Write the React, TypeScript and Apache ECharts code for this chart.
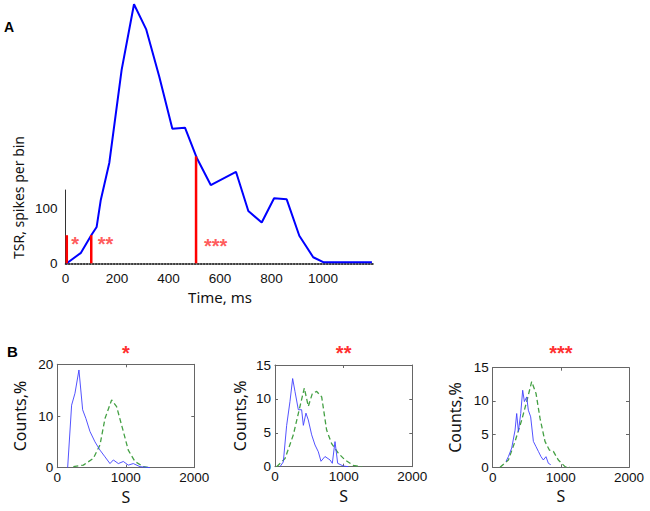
import React, { useEffect, useRef } from "react";
import * as echarts from "echarts";

// ---------- Panel A data ----------
const tsrTime = [5, 60, 100, 121, 137, 170, 218, 266, 313, 364, 415, 464, 509, 564, 662, 710, 762, 810, 859, 908, 962, 1001, 1190];
const tsrValue = [0, 19, 51, 66, 115, 182, 351, 470, 425, 339, 244, 246, 192, 142, 166, 95, 74, 118, 116, 50, 11, 2, 2];
const stimTime = [5, 100, 507];
const stimHeight = [51, 51, 194];
const stimLabel = ["*", "**", "***"];
const starX = [37, 155, 583];
const starY = [35, 35, 31];

// ---------- Panel B data ----------
const b1BlueS = [151, 209, 258, 316, 370, 418, 477, 550, 623, 696, 769, 818, 891, 964, 1036, 1109, 1207, 1353];
const b1BlueC = [0, 12.1, 14.4, 18.9, 11.2, 9.5, 7, 5, 3.4, 2.1, 0.8, 1.5, 0.8, 1.2, 0.5, 0.8, 0.2, 0];
const b1GreenS = [234, 380, 526, 623, 696, 793, 866, 964, 1036, 1134, 1255, 1353];
const b1GreenC = [0.2, 0.5, 1.8, 4.4, 9.5, 13.1, 11.8, 7, 3.4, 1.2, 0.2, 0];

const b2BlueS = [73, 121, 170, 218, 257, 291, 340, 388, 413, 451, 485, 534, 583, 631, 670, 728, 801, 835, 874, 913, 995, 1068];
const b2BlueC = [0, 0.7, 6.1, 9.6, 13, 11.1, 8.4, 8.4, 6.1, 7.9, 6.9, 4.7, 3.2, 2.2, 0.8, 1.5, 1, 0.5, 3.7, 0.5, 0.1, 0];
const b2GreenS = [24, 146, 267, 364, 427, 485, 544, 607, 680, 752, 825, 922, 1019, 1141, 1262];
const b2GreenC = [0, 1.2, 4.7, 8.9, 11.6, 8.9, 10.8, 11.1, 10.3, 5.4, 3.4, 2, 1, 0.2, 0];

const b3BlueS = [196, 230, 279, 328, 352, 377, 411, 440, 465, 499, 523, 557, 597, 636, 670, 709, 743, 782, 817, 851];
const b3BlueC = [0.9, 1.6, 2.9, 5.6, 8.1, 5.4, 8.1, 11.6, 9.9, 10.6, 8.6, 7.6, 3.9, 3.1, 2.4, 1.6, 1.1, 1.6, 0.6, 0.4];
const b3GreenS = [108, 230, 328, 425, 499, 572, 636, 694, 767, 831, 890, 963, 1061, 1134];
const b3GreenC = [0, 1.1, 3.9, 7.1, 9.9, 12.9, 11.1, 7.4, 3.9, 2.6, 2.4, 1.1, 0.1, 0];

const bTitles = ["*", "**", "***"];
const bYMax = [20, 15, 15];
const bYInterval = [10, 5, 5];
const bXMax = 2000;
const bXInterval = 1000;

const zip = (xs: number[], ys: number[]) => xs.map((x, i) => [x, ys[i]]);

const TICK_FONT = "Liberation Sans";
const TITLE_FONT = "Noto Sans";

export default function App() {
  const ref = useRef<HTMLDivElement>(null);

  useEffect(() => {
    document.body.style.margin = "0";
    const chart = echarts.init(ref.current!, undefined, { renderer: "svg" });

    const gridsB = [
      { left: 57.3, top: 364.3, width: 137, height: 103.4 },
      { left: 275, top: 365, width: 137.3, height: 101.7 },
      { left: 492.7, top: 367.7, width: 136.3, height: 99.6 },
    ];
    const bData = [
      { blue: zip(b1BlueS, b1BlueC), green: zip(b1GreenS, b1GreenC) },
      { blue: zip(b2BlueS, b2BlueC), green: zip(b2GreenS, b2GreenC) },
      { blue: zip(b3BlueS, b3BlueC), green: zip(b3GreenS, b3GreenC) },
    ];

    const boxLine = { show: true, onZero: false, lineStyle: { color: "#666", width: 1 } };
    const inTick = { show: true, inside: true, length: 3, lineStyle: { color: "#666" } };
    const plain = (v: number) => String(v);

    const xAxes: any[] = [
      {
        gridIndex: 0,
        type: "value",
        min: 0,
        max: 1200,
        interval: 200,
        axisLine: { show: true, lineStyle: { color: "#000", type: "dotted", width: 1.5 } },
        axisTick: { show: false },
        splitLine: { show: false },
        axisLabel: {
          margin: 8,
          fontSize: 13.5,
          fontFamily: TICK_FONT,
          color: "#111",
          formatter: (v: number) => (v <= 1000 ? String(v) : ""),
        },
        name: "Time, ms",
        nameLocation: "middle",
        nameGap: 26,
        nameTextStyle: { fontSize: 15, fontFamily: TITLE_FONT, color: "#111", verticalAlign: "top" },
      },
    ];
    const yAxes: any[] = [
      {
        gridIndex: 0,
        type: "value",
        min: 0,
        max: 133,
        interval: 100,
        axisLine: { show: true, lineStyle: { color: "#333", width: 1 } },
        axisTick: { show: false },
        splitLine: { show: false },
        axisLabel: {
          margin: 8,
          fontSize: 13.5,
          fontFamily: TICK_FONT,
          color: "#111",
          showMaxLabel: false,
          formatter: (v: number) => (v % 100 === 0 ? String(v) : ""),
        },
      },
    ];

    gridsB.forEach((_, i) => {
      const g = i + 1;
      xAxes.push({
        gridIndex: g,
        type: "value",
        min: 0,
        max: bXMax,
        interval: bXInterval,
        position: "bottom",
        axisLine: boxLine,
        axisTick: inTick,
        splitLine: { show: false },
        axisLabel: { margin: 3, fontSize: 13.5, fontFamily: TICK_FONT, color: "#111", formatter: plain },
        name: "S",
        nameLocation: "middle",
        nameGap: 21,
        nameTextStyle: { fontSize: 16, fontFamily: TITLE_FONT, color: "#111", verticalAlign: "top" },
      });
      xAxes.push({
        gridIndex: g,
        type: "value",
        min: 0,
        max: bXMax,
        interval: bXInterval,
        position: "top",
        axisLine: boxLine,
        axisTick: inTick,
        splitLine: { show: false },
        axisLabel: { show: false },
      });
      yAxes.push({
        gridIndex: g,
        type: "value",
        min: 0,
        max: bYMax[i],
        interval: bYInterval[i],
        position: "left",
        axisLine: boxLine,
        axisTick: inTick,
        splitLine: { show: false },
        axisLabel: { margin: 4, fontSize: 13.5, fontFamily: TICK_FONT, color: "#111", formatter: plain },
      });
      yAxes.push({
        gridIndex: g,
        type: "value",
        min: 0,
        max: bYMax[i],
        interval: bYInterval[i],
        position: "right",
        axisLine: boxLine,
        axisTick: inTick,
        splitLine: { show: false },
        axisLabel: { show: false },
      });
    });

    const series: any[] = [
      {
        type: "line",
        xAxisIndex: 0,
        yAxisIndex: 0,
        data: zip(tsrTime, tsrValue),
        symbol: "none",
        clip: false,
        lineStyle: { color: "#0000ff", width: 2 },
        z: 3,
      },
      ...stimTime.map((t, i) => ({
        type: "line",
        xAxisIndex: 0,
        yAxisIndex: 0,
        data: [
          [t, 0],
          [t, stimHeight[i]],
        ],
        symbol: "none",
        clip: false,
        lineStyle: { color: "#ff0000", width: 2.5 },
        z: 4,
      })),
      {
        type: "scatter",
        xAxisIndex: 0,
        yAxisIndex: 0,
        data: zip(starX, starY),
        symbolSize: 1,
        itemStyle: { color: "rgba(0,0,0,0)" },
        label: {
          show: true,
          position: "inside",
          formatter: (p: any) => stimLabel[p.dataIndex],
          fontSize: 20,
          fontWeight: "bold",
          fontFamily: TICK_FONT,
          color: "#ff3030",
        },
        z: 5,
      },
    ];

    bData.forEach((d, i) => {
      series.push({
        type: "line",
        xAxisIndex: 1 + 2 * i,
        yAxisIndex: 1 + 2 * i,
        data: d.green,
        symbol: "none",
        lineStyle: { color: "#44a044", width: 1.3, type: [5, 3] },
        z: 2,
      });
      series.push({
        type: "line",
        xAxisIndex: 1 + 2 * i,
        yAxisIndex: 1 + 2 * i,
        data: d.blue,
        symbol: "none",
        lineStyle: { color: "#4040ff", width: 1, opacity: 0.9 },
        z: 3,
      });
    });

    const centers = gridsB.map((g) => g.left + g.width / 2);
    const graphic: any[] = [
      { type: "text", x: 4, y: 27, style: { text: "A", fontSize: 14, fontWeight: "bold", fontFamily: TICK_FONT, fill: "#000", verticalAlign: "middle" } },
      { type: "text", x: 7, y: 351, style: { text: "B", fontSize: 15, fontWeight: "bold", fontFamily: TICK_FONT, fill: "#000", verticalAlign: "middle" } },
      {
        type: "text",
        x: 18,
        y: 197.5,
        rotation: Math.PI / 2,
        style: { text: "TSR, spikes per bin", fontSize: 14, fontFamily: TITLE_FONT, fill: "#111", align: "center", verticalAlign: "middle" },
      },
      ...gridsB.map((g, i) => ({
        type: "text",
        x: [20, 240, 455][i],
        y: g.top + g.height / 2,
        rotation: Math.PI / 2,
        style: { text: "Counts,%", fontSize: 16, fontFamily: TITLE_FONT, fill: "#111", align: "center", verticalAlign: "middle" },
      })),
      ...bTitles.map((t, i) => ({
        type: "text",
        x: centers[i],
        y: 353,
        style: { text: t, fontSize: 20, fontWeight: "bold", fontFamily: TICK_FONT, fill: "#ff3030", align: "center", verticalAlign: "middle" },
      })),
    ];

    chart.setOption({
      animation: false,
      backgroundColor: "#fff",
      grid: [{ left: 65.5, top: 190, width: 309, height: 73.3, show: false }, ...gridsB.map((g) => ({ ...g, show: false }))],
      xAxis: xAxes,
      yAxis: yAxes,
      series,
      graphic,
    });

    return () => chart.dispose();
  }, []);

  return <div ref={ref} style={{ width: 650, height: 511 }} />;
}
